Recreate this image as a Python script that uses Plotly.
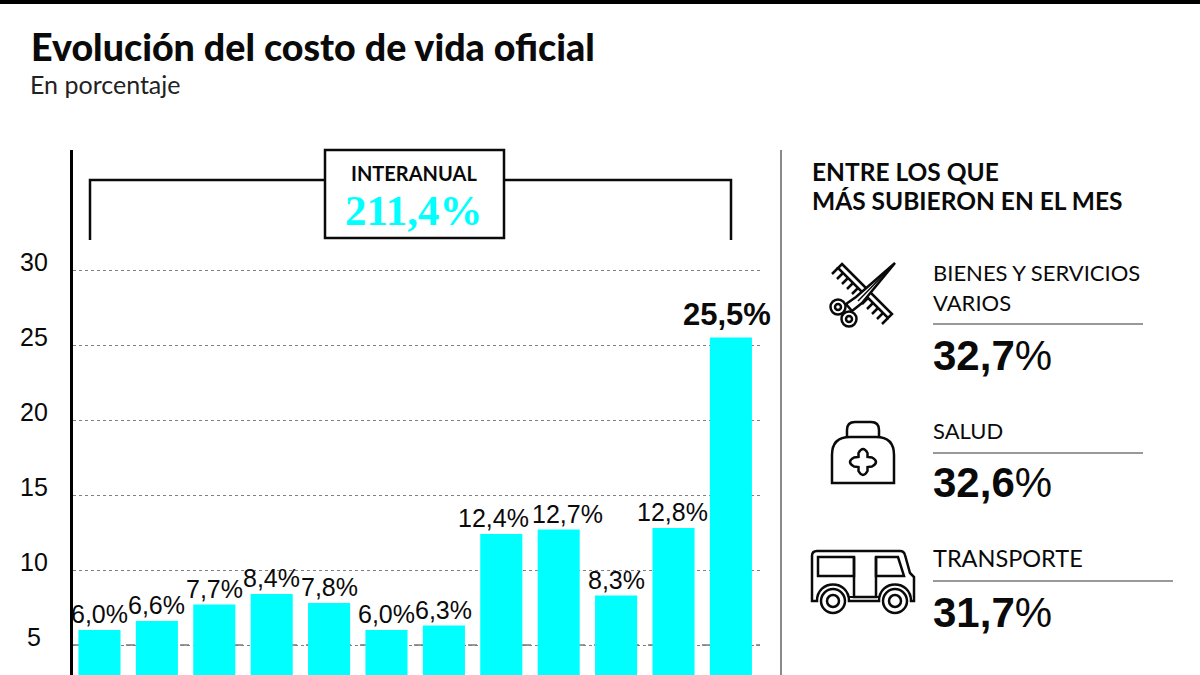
import plotly.graph_objects as go

W, H = 1200, 675

meses = ['Ene', 'Feb', 'Mar', 'Abr', 'May', 'Jun', 'Jul', 'Ago', 'Sep', 'Oct', 'Nov', 'Dic']
inflacion = [6.0, 6.6, 7.7, 8.4, 7.8, 6.0, 6.3, 12.4, 12.7, 8.3, 12.8, 25.5]
y_ticks = [5, 10, 15, 20, 25, 30]

rubros = [['BIENES Y SERVICIOS', 'VARIOS'], ['SALUD'], ['TRANSPORTE']]
rubros_valores = ['32,7', '32,6', '31,7']

HEAD = 'Lato'
SANS = 'Liberation Sans'
SERIF = 'Liberation Serif'
CYAN = '#00FFFF'
INK = '#0a0a0a'

# a few labels are pushed sideways so they do not touch
label_shift = [0, 0, 0, 0, 0, 0, 0, -8, 9, 0, -1, -4]


def px(x):
    return x / W


def py(y):
    return 1 - y / H


def to_path(points, close=False):
    # points in pixels of the page, strings are svg commands
    out = []
    for p in points:
        if isinstance(p, str):
            out.append(p)
        else:
            out.append(f'{px(p[0]):.5f},{py(p[1]):.5f}')
    return ' '.join(out) + (' Z' if close else '')


shapes = []
annotations = []


def add_line(x0, y0, x1, y1, color=INK, width=2.5):
    shapes.append(dict(type='line', xref='paper', yref='paper',
                       x0=px(x0), y0=py(y0), x1=px(x1), y1=py(y1),
                       line=dict(color=color, width=width)))


def add_path(points, close=False, fill='rgba(0,0,0,0)', width=2.5):
    shapes.append(dict(type='path', xref='paper', yref='paper',
                       path=to_path(points, close), fillcolor=fill,
                       line=dict(color=INK, width=width)))


def add_circle(cx, cy, r, fill='white', width=2.5):
    shapes.append(dict(type='circle', xref='paper', yref='paper',
                       x0=px(cx - r), x1=px(cx + r), y0=py(cy + r), y1=py(cy - r),
                       fillcolor=fill, line=dict(color=INK, width=width)))


def add_text(x, y, text, size, family=SANS, color=INK, anchor='left', weight=None):
    font = dict(family=family, size=size, color=color)
    if weight:
        font['weight'] = weight
    annotations.append(dict(xref='paper', yref='paper', x=px(x), y=py(y), text=text,
                            showarrow=False, xanchor=anchor, yanchor='middle',
                            align=anchor, font=font, borderpad=0))


# top band, title
shapes.append(dict(type='rect', xref='paper', yref='paper', x0=0, x1=1, y0=py(4), y1=1,
                   fillcolor='black', line=dict(width=0)))
add_text(30, 47, 'Evolución del costo de vida oficial', 37.6, HEAD, weight=900)
add_text(29, 84, 'En porcentaje', 25, HEAD, '#222222')

# bracket and interanual box
add_path(['M', (90, 240), 'L', (90, 180), 'L', (731, 180), 'L', (731, 240)])
shapes.append(dict(type='rect', xref='paper', yref='paper',
                   x0=px(325), x1=px(504), y0=py(238), y1=py(150),
                   fillcolor='white', line=dict(color=INK, width=2.5)))
add_text(414, 173, '<b>INTERANUAL</b>', 20, HEAD, anchor='center')
add_text(414, 211, '<b>211,4%</b>', 43, SERIF, CYAN, anchor='center')

# right panel
add_line(781, 150, 781, 675, '#8a8a8a', 2)
add_text(810.5, 171, '<b>ENTRE LOS QUE</b>', 24.5, HEAD)
add_text(810.5, 201, '<b>MÁS SUBIERON EN EL MES</b>', 24.5, HEAD)

add_text(931.5, 272, rubros[0][0], 22, HEAD)
add_text(931.5, 302, rubros[0][1], 22, HEAD)
add_text(931.5, 430, rubros[1][0], 22, HEAD)
add_text(931.5, 558, rubros[2][0], 23.5, HEAD)
add_line(933, 324, 1143, 324, '#777777', 1.5)
add_line(933, 453, 1143, 453, '#777777', 1.5)
add_line(933, 581, 1173, 581, '#777777', 1.5)
for val, yy in zip(rubros_valores, [355, 483, 612]):
    add_text(931.5, yy, f'<b>{val}</b>%', 42, SANS)

# icon: comb and scissors
add_path(['M', (842, 264), 'L', (892, 314), 'L', (888, 318), 'L', (838, 268)],
         close=True, fill='white', width=2.5)
for i in range(11):
    x0, y0 = 838 + i * 5, 268 + i * 5
    add_line(x0, y0, x0 - 6, y0 + 6, INK, 2.5)
add_path(['M', (895, 263), 'L', (856, 297), 'L', (846, 304), 'L', (852, 311), 'L', (862, 303)],
         close=True, fill='white')
add_line(894, 264, 858, 301, INK, 1.5)
add_circle(838, 307, 7.5)
add_circle(838, 307, 3)
add_circle(849, 319, 7.5)
add_circle(849, 319, 3)

# icon: medical bag
add_path(['M', (847, 437), 'L', (847, 430), 'Q', (847, 422), (855, 422), 'L', (871, 422),
          'Q', (879, 422), (879, 430), 'L', (879, 437)])
add_path(['M', (832, 483), 'L', (832, 455), 'Q', (832, 437), (850, 437), 'L', (876, 437),
          'Q', (894, 437), (894, 455), 'L', (894, 483)], close=True)
add_path(['M', (858.5, 457), 'L', (858.5, 453), 'Q', (863, 445), (867.5, 453), 'L', (867.5, 457),
          'L', (872, 457.5), 'Q', (880, 462), (872, 466.5), 'L', (867.5, 467), 'L', (867.5, 471),
          'Q', (863, 479), (858.5, 471), 'L', (858.5, 467), 'L', (854, 466.5),
          'Q', (846, 462), (854, 457.5)], close=True)

# icon: bus
add_path(['M', (812, 601), 'L', (812, 556), 'Q', (812, 551), (817, 551), 'L', (900, 551),
          'Q', (904, 551), (905, 555), 'L', (910, 573), 'L', (914, 577), 'L', (914, 601),
          'L', (911, 601), 'C', (911, 579), (879, 579), (879, 601), 'L', (849, 601),
          'C', (849, 579), (817, 579), (817, 601)], close=True)
add_path(['M', (818, 557), 'L', (854, 557), 'L', (854, 576), 'L', (818, 576)], close=True)
add_path(['M', (876, 557), 'L', (898, 557), 'L', (904, 576), 'L', (876, 576)], close=True)
add_path(['M', (854, 557), 'L', (854, 597), 'L', (876, 597), 'L', (876, 557)])
add_line(849, 597, 879, 597, INK, 2)
for cx in (833, 895):
    add_circle(cx, 601, 12)
    add_circle(cx, 601, 6)

# the line at 5 reads darker than the others in the original
shapes.append(dict(type='line', xref='paper', yref='y', x0=px(72), x1=px(760), y0=5, y1=5,
                   layer='below', line=dict(color='#333333', width=1, dash='dash')))

# tick labels sit above their gridlines
for t in y_ticks:
    annotations.append(dict(xref='paper', yref='y', x=px(34), y=t, yshift=8, text=str(t),
                            showarrow=False, xanchor='center', yanchor='middle',
                            font=dict(family=SANS, size=25, color=INK)))

# bar labels
for mes, v, shift in zip(meses, inflacion, label_shift):
    txt = str(v).replace('.', ',') + '%'
    top = v == max(inflacion)
    annotations.append(dict(xref='x', yref='y', x=mes, y=v, xshift=shift, yshift=5 if top else 1,
                            text=f'<b>{txt}</b>' if top else txt, showarrow=False,
                            xanchor='center', yanchor='bottom', borderpad=0,
                            font=dict(family=SANS, size=31 if top else 25, color=INK)))

fig = go.Figure()
fig.add_trace(go.Bar(
    x=meses, y=inflacion, marker=dict(color=CYAN, line=dict(width=0)),
    cliponaxis=False, showlegend=False))

fig.update_layout(
    width=W, height=H, margin=dict(l=0, r=0, t=0, b=0),
    paper_bgcolor='white', plot_bgcolor='white', bargap=0.267,
    font=dict(family=SANS, color=INK), shapes=shapes, annotations=annotations,
    xaxis=dict(domain=[px(72.5), px(760)], range=[-0.470, 11.507], visible=False),
    yaxis=dict(domain=[0, py(150)], range=[3, 38], tickvals=y_ticks, zeroline=False,
               showline=True, linecolor='black', linewidth=3, showticklabels=False,
               gridcolor='#808080', griddash='dot', gridwidth=1, ticks=''),
)

fig.write_html('out.html', config={'displayModeBar': False},
               post_script="document.body.style.margin='0'")
